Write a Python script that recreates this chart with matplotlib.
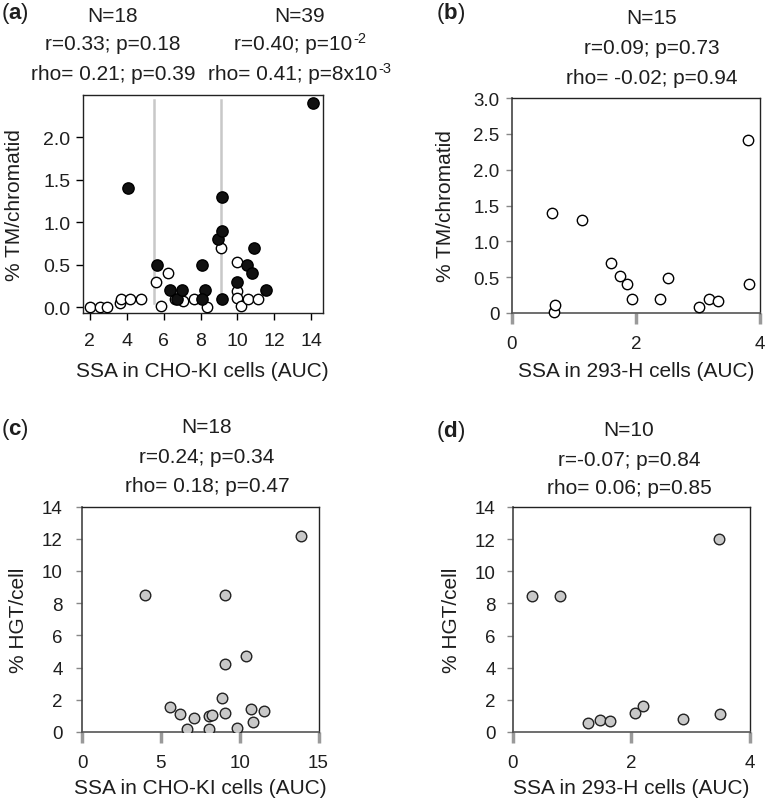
import matplotlib
matplotlib.use("Agg")
import matplotlib.pyplot as plt
from matplotlib.text import Annotation

plt.rcParams['font.family'] = ['Liberation Sans', 'DejaVu Sans']
plt.rcParams['mathtext.fontset'] = 'custom'
plt.rcParams['mathtext.rm'] = 'Liberation Sans'
plt.rcParams['mathtext.bf'] = 'Liberation Sans:bold'
plt.rcParams['mathtext.it'] = 'Liberation Sans:italic'

# panel (a): SSA in CHO-KI vs % TM/chromatid
a_filled_x = [14.1, 4.05, 5.67, 6.36, 6.73, 7.0, 8.09, 8.22, 8.09, 8.96, 9.16, 9.16, 9.16, 10.0, 10.51, 10.8, 10.87, 11.53]
a_filled_y = [2.4, 1.4, 0.5, 0.2, 0.1, 0.2, 0.5, 0.2, 0.1, 0.8, 0.9, 1.3, 0.1, 0.3, 0.5, 0.4, 0.7, 0.2]
a_open_x = [2.0, 2.55, 2.95, 3.65, 3.69, 4.2, 4.78, 5.58, 6.22, 5.85, 6.64, 7.07, 7.67, 8.33, 9.09, 9.95, 9.96, 9.96, 10.18, 10.58, 11.11]
a_open_y = [0.0, 0.0, 0.0, 0.05, 0.1, 0.1, 0.1, 0.3, 0.4, 0.02, 0.1, 0.07, 0.1, 0.0, 0.7, 0.53, 0.19, 0.11, 0.02, 0.1, 0.1]
a_cuts = [5.5, 9.1]

# panel (b): SSA in 293-H vs % TM/chromatid
b_x = [0.64, 1.13, 0.67, 0.69, 1.59, 1.74, 1.86, 1.94, 2.51, 2.39, 3.02, 3.18, 3.33, 3.81, 3.82]
b_y = [1.4, 1.3, 0.02, 0.11, 0.7, 0.51, 0.41, 0.2, 0.49, 0.2, 0.09, 0.2, 0.17, 2.42, 0.41]

# panel (c): SSA in CHO-KI vs % HGT/cell
c_x = [3.97, 9.05, 13.89, 10.42, 9.05, 8.88, 5.56, 6.24, 7.12, 6.68, 8.08, 8.25, 8.08, 9.05, 9.83, 10.74, 11.56, 10.85]
c_y = [8.53, 8.51, 12.18, 4.71, 4.21, 2.14, 1.54, 1.14, 0.87, 0.19, 0.98, 1.08, 0.19, 1.2, 0.25, 1.41, 1.33, 0.62]

# panel (d): SSA in 293-H vs % HGT/cell
d_x = [0.33, 0.8, 3.49, 1.28, 1.47, 1.65, 2.07, 2.21, 2.87, 3.5]
d_y = [8.46, 8.46, 12.0, 0.58, 0.73, 0.69, 1.21, 1.64, 0.79, 1.14]

W, H = 765, 803
TXT = '#1e1e1e'
FS = 15


def fx(px):
    return px / W


def fy(py):
    return 1 - py / H


def excel_axes(ax):
    for s in ['top', 'right']:
        ax.spines[s].set_color('#222222')
        ax.spines[s].set_linewidth(1.0)
    ax.spines['left'].set_color('#444444')
    ax.spines['left'].set_linewidth(1.2)
    ax.spines['bottom'].set_color('#555555')
    ax.spines['bottom'].set_linewidth(1.2)
    ax.tick_params(axis='y', direction='out', length=4, width=1, color='#888888',
                   labelsize=13.5, labelcolor=TXT, pad=5)
    ax.tick_params(axis='x', direction='out', length=8, width=2.5, color='#9a9a9a',
                   labelsize=13.5, labelcolor=TXT, pad=8)


fig = plt.figure(figsize=(W / 100, H / 100), dpi=100)

# (a)
ax = fig.add_axes([fx(83), fy(313.5), fx(239.5), 217.5 / H])
ax.scatter(a_open_x, a_open_y, s=56, facecolors='white', edgecolors='black', linewidths=1.0, zorder=3)
ax.scatter(a_filled_x, a_filled_y, s=66, facecolors='#111111', edgecolors='black', linewidths=1.0, zorder=4)
for c in a_cuts:
    ax.plot([c, c], [0.05, 2.44], color='#c8c8c8', lw=1.8, zorder=1)
ax.set_xlim(1.64, 14.6)
ax.set_ylim(-0.06, 2.5)
ax.set_xticks([2, 4, 6, 8, 10, 12, 14])
ax.set_yticks([0, 0.5, 1.0, 1.5, 2.0])
ax.set_yticklabels(['0.0', '0.5', '1.0', '1.5', '2.0'])
for s in ax.spines.values():
    s.set_color('#222222')
    s.set_linewidth(1.0)
ax.tick_params(direction='out', length=5, width=1, labelsize=14, labelcolor=TXT, pad=4)
ax.tick_params(axis='x', pad=9)
ax.set_xlabel('SSA in CHO-KI cells (AUC)', fontsize=FS, color=TXT, labelpad=9)
ax.set_ylabel('% TM/chromatid', fontsize=FS, color=TXT, labelpad=14)

# (b)
ax = fig.add_axes([fx(512), fy(314), fx(248), 215 / H])
ax.scatter(b_x, b_y, s=56, facecolors='white', edgecolors='black', linewidths=1.0, zorder=3, clip_on=False)
ax.set_xlim(0, 4)
ax.set_ylim(0, 3)
ax.set_xticks([0, 2, 4])
ax.set_yticks([0, 0.5, 1.0, 1.5, 2.0, 2.5, 3.0])
ax.set_yticklabels(['0', '0.5', '1.0', '1.5', '2.0', '2.5', '3.0'])
excel_axes(ax)
ax.set_xlabel('SSA in 293-H cells (AUC)', fontsize=FS, color=TXT, labelpad=6)
ax.set_ylabel('% TM/chromatid', fontsize=FS, color=TXT, labelpad=13)

# (c)
ax = fig.add_axes([fx(82), fy(733), fx(236.5), 225.5 / H])
ax.scatter(c_x, c_y, s=58, facecolors='#c8c8c8', edgecolors='#222222', linewidths=1.0, zorder=3)
ax.set_xlim(0, 15)
ax.set_ylim(0, 14)
ax.set_xticks([0, 5, 10, 15])
ax.set_yticks(range(0, 15, 2))
excel_axes(ax)
ax.tick_params(axis='y', pad=10)
ax.set_xlabel('SSA in CHO-KI cells (AUC)', fontsize=FS, color=TXT, labelpad=5)
ax.set_ylabel('% HGT/cell', fontsize=FS, color=TXT, labelpad=10)

# (d)
ax = fig.add_axes([fx(512.5), fy(733), fx(237), 225 / H])
ax.scatter(d_x, d_y, s=58, facecolors='#c8c8c8', edgecolors='#222222', linewidths=1.0, zorder=3)
ax.set_xlim(0, 4)
ax.set_ylim(0, 14)
ax.set_xticks([0, 2, 4])
ax.set_yticks(range(0, 15, 2))
excel_axes(ax)
ax.tick_params(axis='y', pad=8)
ax.set_xlabel('SSA in 293-H cells (AUC)', fontsize=FS, color=TXT, labelpad=5)
ax.set_ylabel('% HGT/cell', fontsize=FS, color=TXT, labelpad=10)

# panel letters
for lab, x, y in [('a', 15, 14), ('b', 451, 14), ('c', 15, 430), ('d', 451, 432)]:
    fig.text(fx(x), fy(y), r'($\mathbf{%s}$)' % lab, fontsize=16, color=TXT, ha='center', va='center')

# stats text
stats = [
    (113, [17, 45, 75], ['N=18', 'r=0.33; p=0.18', 'rho= 0.21; p=0.39']),
    (300, [17], ['N=39']),
    (652, [18, 48, 78], ['N=15', 'r=0.09; p=0.73', 'rho= -0.02; p=0.94']),
    (207, [428, 458, 487], ['N=18', 'r=0.24; p=0.34', 'rho= 0.18; p=0.47']),
    (629, [431, 461, 489], ['N=10', 'r=-0.07; p=0.84', 'rho= 0.06; p=0.85']),
]
for x, ys, lines in stats:
    for y, t in zip(ys, lines):
        fig.text(fx(x), fy(y), t, fontsize=FS, color=TXT, ha='center', va='center')

# lines with superscripts (hyphen-style exponent)
for x, y, main, sup in [(234, 45, 'r=0.40; p=10', '-2'), (208, 75, 'rho= 0.41; p=8x10', '-3')]:
    t = fig.text(fx(x), fy(y), main, fontsize=FS, color=TXT, ha='left', va='center')
    fig.add_artist(Annotation(sup, xy=(1, 0.82), xycoords=t, xytext=(0.5, 0),
                              textcoords='offset points', fontsize=10.5, color=TXT,
                              ha='left', va='center'))

fig.savefig('out.png', dpi=100)
